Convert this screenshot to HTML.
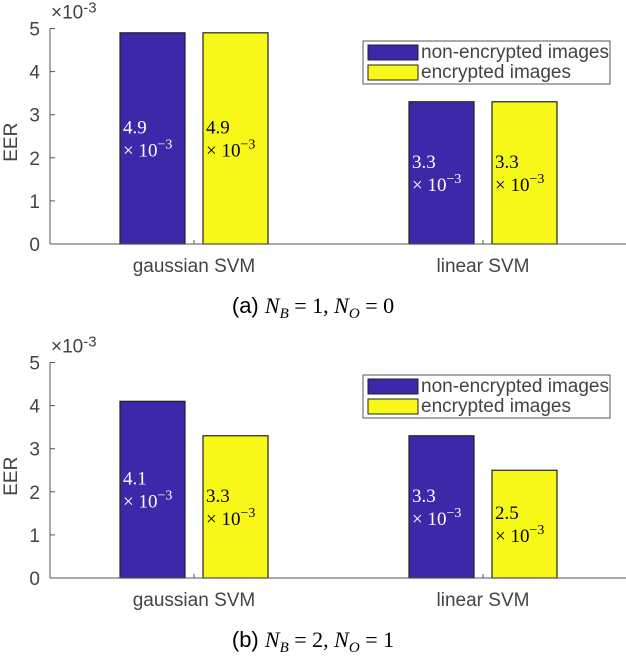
<!DOCTYPE html>
<html><head><meta charset="utf-8"><style>
body{margin:0;background:#fff;width:626px;height:656px;overflow:hidden}
svg{display:block}
.t{font-family:"Liberation Sans",sans-serif;fill:#444;font-size:19px}
.c{font-family:"Liberation Serif",serif;font-size:19px}
.cap{font-family:"Liberation Sans",sans-serif;font-size:22px;fill:#000}
</style></head><body>
<svg id="s" width="626" height="656"></svg>
<script>
const categories=["gaussian SVM","linear SVM"];
const seriesNames=["non-encrypted images","encrypted images"];
const panelA_non=[4.9,3.3];
const panelA_enc=[4.9,3.3];
const panelB_non=[4.1,3.3];
const panelB_enc=[3.3,2.5];
const yTicks=[0,1,2,3,4,5];
const captions=[["(a) ","B","1","O","0"],["(b) ","B","2","O","1"]];
const NS="http://www.w3.org/2000/svg";
const svg=document.getElementById('s');
const colors=["#3c28a8","#f8f818"];
function mk(tag,at,parent){const e=document.createElementNS(NS,tag);for(const k in at)e.setAttribute(k,at[k]);(parent||svg).appendChild(e);return e;}
function panel(off,non,enc,cap,idx){
  const g=mk('g',{});
  
  
  const y0=244+off,y5=28.5+off;
  const y=v=>y0-(y0-y5)*v/5;
  const centers=[194,483];
  const x=(ci,si)=>centers[ci]+(si===0?-74:9);
  const bw=65;
  [non,enc].forEach((vals,si)=>vals.forEach((v,ci)=>{
    const r=mk('rect',{x:x(ci,si),y:y(v),width:bw,height:y0-y(v),fill:colors[si],stroke:"#222","stroke-width":1.2},g);
    
    
    const ym=(y(v)+y0)/2;
    const col=si?"#000":"#fff";
    const t1=mk('text',{x:x(ci,si)+3,y:ym-5,class:'c',fill:col},g);t1.textContent=v.toFixed(1);
    
    
    const t2=mk('text',{x:x(ci,si)+3,y:ym+18,class:'c',fill:col},g);
    t2.innerHTML='× 10<tspan dy="-8" font-size="14">−3</tspan>';
    
    
  }));
  mk('line',{x1:50,y1:y5,x2:50,y2:y0,stroke:"#555","stroke-width":1},g);
  mk('line',{x1:50,y1:y0,x2:626,y2:y0,stroke:"#555","stroke-width":1},g);
  yTicks.forEach(v=>{
    mk('line',{x1:50,y1:y(v),x2:55,y2:y(v),stroke:"#555"},g);
    const t=mk('text',{x:40,y:y(v)+7,class:'t','text-anchor':'end'},g);t.textContent=v;
    
    
  });
  centers.forEach((c,ci)=>{
    mk('line',{x1:c,y1:y0,x2:c,y2:y0-4,stroke:"#555"},g);
    const t=mk('text',{x:c,y:y0+28,class:'t','text-anchor':'middle','font-size':'18'},g);t.textContent=categories[ci];
    
    
  });
  const ex=mk('text',{x:51,y:y5-10,class:'t','font-size':'18'},g);ex.innerHTML='×10<tspan dy="-6" font-size="15">-3</tspan>';
  
  
  const yl=mk('text',{x:0,y:0,class:'t',transform:`translate(17,${(y0+y5)/2+6}) rotate(-90)`,'text-anchor':'middle'},g);yl.textContent='EER';
  
  
  const lg=mk('g',{},g);
  
  
  mk('rect',{x:363,y:41+off,width:247,height:43,fill:"#fff",stroke:"#555"},lg);
  seriesNames.forEach((n,i)=>{
    mk('rect',{x:368,y:45+off+i*20,width:50,height:15,fill:colors[i],stroke:"#222"},lg);
    const t=mk('text',{x:421,y:58+off+i*20,class:'t',fill:"#333","font-size":"16"},lg);t.textContent=n;
    
    
  });
  const ct=mk('text',{x:313,y:313+off,class:'cap','text-anchor':'middle'},g);
  ct.innerHTML=`${cap[0]}<tspan font-family="Liberation Serif" font-style="italic">N</tspan><tspan dy="5" font-size="15" font-family="Liberation Serif" font-style="italic">${cap[1]}</tspan><tspan dy="-5" font-family="Liberation Serif"> = ${cap[2]}, </tspan><tspan font-family="Liberation Serif" font-style="italic">N</tspan><tspan dy="5" font-size="15" font-family="Liberation Serif" font-style="italic">${cap[3]}</tspan><tspan dy="-5" font-family="Liberation Serif"> = ${cap[4]}</tspan>`;
  
  
}
panel(0,panelA_non,panelA_enc,captions[0],'a');
panel(334,panelB_non,panelB_enc,captions[1],'b');
</script>
</body></html>
